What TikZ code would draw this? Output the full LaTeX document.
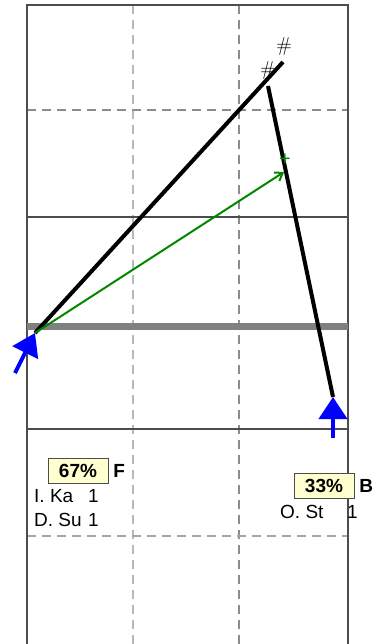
\documentclass[tikz,border=0pt]{standalone}
\usepackage{fontspec}
\setsansfont{Liberation Sans}
\usetikzlibrary{arrows.meta, positioning}
\definecolor{pctfill}{RGB}{255,255,208}
\definecolor{forcegreen}{RGB}{0,136,0}

\begin{document}
\begin{tikzpicture}[
    x=1pt, y=-1pt,
    font=\sffamily\fontsize{19}{22}\selectfont,
    frame/.style={draw=black!70, line width=1.2pt},
    griddash/.style={draw=black!45, line width=1.3pt, dash pattern=on 9pt off 6pt},
    member/.style={draw=black, line width=4pt},
    force/.style={draw=forcegreen, line width=2pt, -{Straight Barb[length=7pt,width=10pt]}},
    load/.style={draw=blue, line width=4pt, -{Triangle[length=22pt,width=28pt]}},
    pct/.style={draw=black!70, fill=pctfill, font=\sffamily\bfseries\fontsize{19}{22}\selectfont, minimum width=60pt, minimum height=25pt, inner sep=2pt},
    tag/.style={font=\sffamily\bfseries\fontsize{19}{22}\selectfont, inner sep=1pt},
    lbl/.style={inner sep=0pt, anchor=base west},
    hash/.style={font=\rmfamily\fontsize{20}{20}\selectfont, text=black, inner sep=0pt}
]
\useasboundingbox (0,0) rectangle (376,644);

% grid
\draw[griddash, draw=black!28] (133,5) -- (133,644);
\draw[griddash] (239,5) -- (239,644);
\draw[griddash] (27,110) -- (348,110);
\draw[griddash, draw=black!35] (27,536) -- (348,536);
\draw[frame] (27,644) -- (27,5) -- (348,5) -- (348,644);
\draw[frame] (27,217) -- (348,217);
\draw[frame] (27,429) -- (348,429);
\draw[draw=black!50, line width=7pt] (27,326) -- (348,326);

% points
\coordinate (pL) at (35,333);
\coordinate (tA) at (283,62);
\coordinate (tB) at (268,86);
\coordinate (pR) at (333,397);
\coordinate (gE) at (284,172);
\coordinate (aL) at (15,373);
\coordinate (aR) at (333,438);

\draw[member] (pL) -- (tA);
\draw[member] (tB) -- (pR);
\node[hash] (hA) at (284,47) {\#};
\node[hash] (hB) at (268,71) {\#};

\draw[force] (pL) -- (gE);
\node[text=forcegreen, inner sep=0pt, font=\sffamily\fontsize{20}{20}\selectfont] (gP) at (285,160) {+};

\draw[load] (aL) -- (pL);
\draw[load] (aR) -- (pR);

% labels
\node[pct] (pF) at (78,471) {67\%};
\node[tag, right=4pt of pF] (lF) {F};
\node[lbl] (n1) at (34,502) {I. Ka};
\node[lbl] (v1) at (88,502) {1};
\node[lbl] (n2) at (34,526) {D. Su};
\node[lbl] (v2) at (88,526) {1};

\node[pct] (pB) at (324,486) {33\%};
\node[tag, right=4pt of pB] (lB) {B};
\node[lbl] (n3) at (280,518) {O. St};
\node[lbl] (v3) at (347,518) {1};
\end{tikzpicture}
\end{document}
